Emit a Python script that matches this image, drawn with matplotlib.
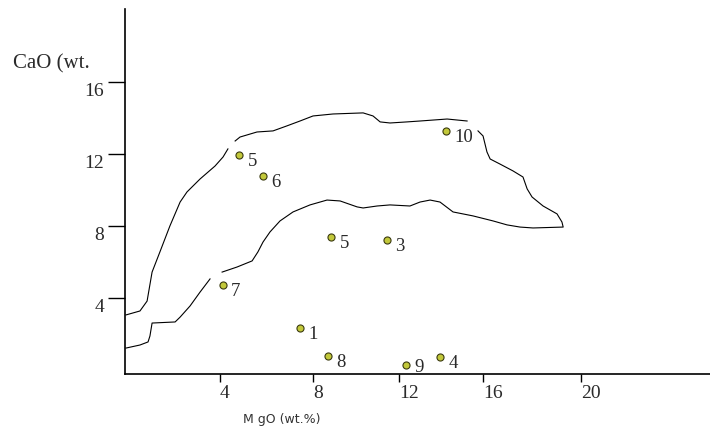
import matplotlib
matplotlib.use("Agg")
import matplotlib.pyplot as plt
import numpy as np

# sample points (MgO, CaO in wt.%)
sample_labels = ["5", "6", "10", "5", "3", "7", "1", "8", "9", "4"]
sample_mgo = [4.83, 5.84, 14.22, 8.84, 11.43, 4.12, 7.44, 8.68, 12.33, 13.95]
sample_cao = [11.96, 10.76, 13.26, 7.39, 7.21, 4.72, 2.32, 0.76, 0.28, 0.74]

# field boundary, drawn in four pieces (gaps as in the original)
upper_left_mgo = [0.04, 0.63, 0.93, 1.14, 1.47, 1.89, 2.32, 2.61, 3.16, 3.79, 4.13, 4.34]
upper_left_cao = [3.06, 3.28, 3.83, 5.44, 6.56, 8.0, 9.33, 9.89, 10.61, 11.33, 11.83, 12.28]

upper_top_mgo = [4.65, 4.86, 5.59, 6.28, 6.88, 7.44, 8.0, 8.93, 10.33, 10.79, 11.12,
                 11.58, 12.38, 13.0, 14.29, 15.24]
upper_top_cao = [12.72, 12.94, 13.22, 13.28, 13.56, 13.83, 14.11, 14.22, 14.28, 14.11, 13.78,
                 13.72, 13.78, 13.83, 13.94, 13.83]

right_lower_mgo = [15.76, 16.0, 16.16, 16.29, 16.69, 17.22, 17.63, 17.80, 18.0, 18.45, 19.02,
                   19.22, 19.27, 18.04, 17.51, 16.98, 16.41, 15.52, 14.57, 13.95, 13.48,
                   13.0, 12.52, 11.58, 10.98, 10.33, 10.05, 9.26, 8.65, 7.87, 7.14, 6.58,
                   6.15, 5.85, 5.63, 5.38, 4.73, 4.09]
right_lower_cao = [13.28, 13.0, 12.11, 11.72, 11.44, 11.06, 10.72, 10.06, 9.61, 9.11, 8.67,
                   8.22, 7.94, 7.89, 7.94, 8.06, 8.28, 8.56, 8.78, 9.33, 9.44,
                   9.33, 9.11, 9.17, 9.11, 9.0, 9.06, 9.39, 9.44, 9.17, 8.78, 8.28,
                   7.67, 7.11, 6.56, 6.06, 5.72, 5.44]

lower_left_mgo = [3.58, 3.16, 2.74, 2.32, 2.11, 1.14, 1.05, 0.97, 0.63, 0.04]
lower_left_cao = [5.06, 4.33, 3.56, 2.94, 2.67, 2.61, 1.89, 1.56, 1.39, 1.22]

x_ticks = [4, 8, 12, 16, 20]
y_ticks = [4, 8, 12, 16]

# the hand-drawn x axis is not evenly spaced
knot_mgo = [-4, 0, 4, 8, 12, 16, 20, 28, 40]
knot_pos = [-95, 0, 95, 188, 274, 358, 456, 636, 906]


def fwd(x):
    return np.interp(x, knot_mgo, knot_pos)


def inv(p):
    return np.interp(p, knot_pos, knot_mgo)


serif = ["Liberation Serif", "DejaVu Serif"]
text_col = "#2a2a2a"

fig = plt.figure(figsize=(7.1, 4.31), dpi=100)
ax = fig.add_axes([125 / 710, 56 / 431, 585 / 710, 365 / 431])
ax.set_xscale("function", functions=(fwd, inv))
ax.set_xlim(0, 25.73)
ax.set_ylim(-0.22, 20.05)

for xs, ys in [(upper_left_mgo, upper_left_cao), (upper_top_mgo, upper_top_cao),
               (right_lower_mgo, right_lower_cao), (lower_left_mgo, lower_left_cao)]:
    ax.plot(xs, ys, color="black", lw=0.8, clip_on=False)

ax.scatter(sample_mgo, sample_cao, s=26, marker="o", color="#c2c83a",
           edgecolors="#3a3a10", linewidths=0.8, zorder=3, clip_on=False)
for lab, x, y in zip(sample_labels, sample_mgo, sample_cao):
    dy = -1 if lab == "9" else -4
    ax.annotate(lab, (x, y), xytext=(6, dy), textcoords="offset points",
                ha="left", va="center", fontsize=13.5, family=serif, color=text_col)

for s in ["top", "right"]:
    ax.spines[s].set_visible(False)
for s in ["left", "bottom"]:
    ax.spines[s].set_linewidth(1.2)

ax.set_xticks(x_ticks)
ax.set_xticklabels([str(t) for t in x_ticks])
ax.set_yticks(y_ticks)
ax.set_yticklabels([str(t) for t in y_ticks])
ax.xaxis.set_minor_locator(matplotlib.ticker.NullLocator())
ax.tick_params(axis="x", direction="out", length=6, width=1, pad=1,
               labelsize=14, labelcolor=text_col)
ax.tick_params(axis="y", direction="out", length=12, width=1, pad=3,
               labelsize=14, labelcolor=text_col)
for lab in ax.get_xticklabels():
    lab.set_ha("left")
    lab.set_family(serif)
for lab in ax.get_yticklabels():
    lab.set_va("top")
    lab.set_family(serif)

fig.text(13 / 710, 1 - 64 / 431, "CaO (wt.", ha="left", va="center",
         fontsize=15, family=serif, color=text_col)
ax.set_xlabel("M gO (wt.%)", fontsize=9, color="#333333", family="DejaVu Sans")
ax.xaxis.set_label_coords((282 - 125) / 585, (375 - 413) / 365)

fig.savefig("out.png", dpi=100)
